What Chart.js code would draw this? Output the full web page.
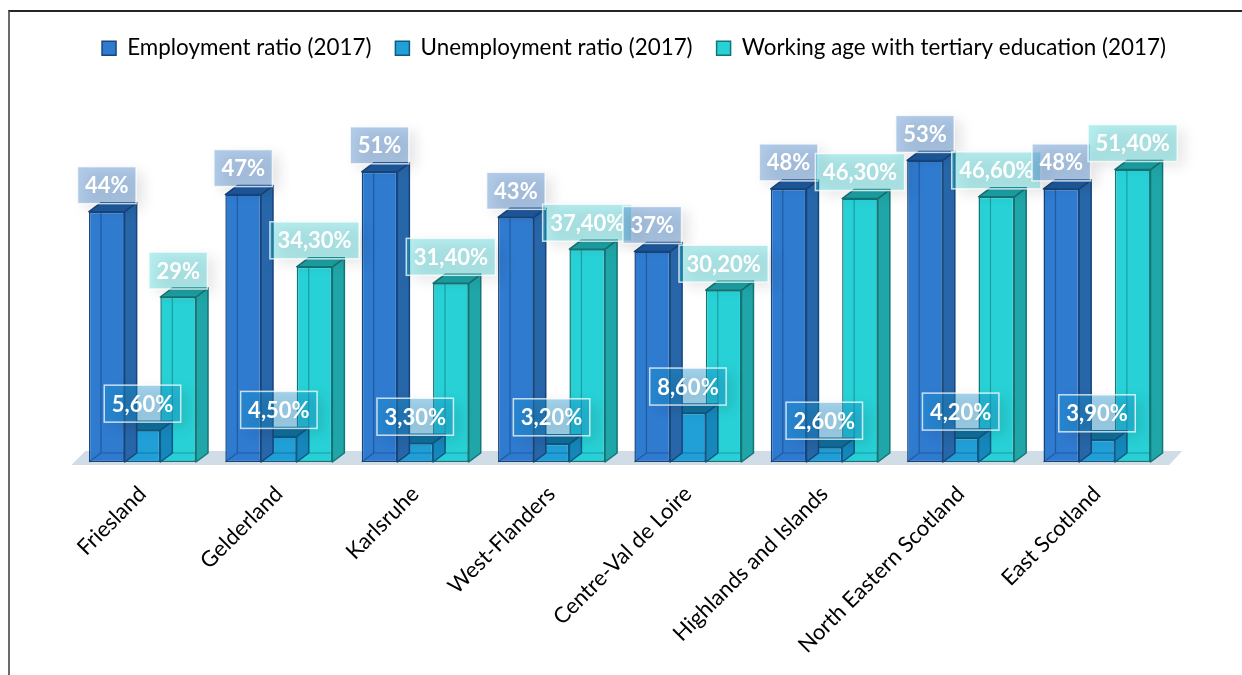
<!DOCTYPE html>
<html>
<head>
<meta charset="utf-8">
<title>Regional labour market indicators, 2017</title>
<script src="https://cdn.jsdelivr.net/npm/chart.js@4.4.1/dist/chart.umd.min.js"></script>
<style>
  html, body { margin: 0; padding: 0; background: #ffffff; overflow: hidden; }
  #frame {
    position: absolute; left: 8px; top: 10px;
    width: 1260px; height: 690px;
    border-top: 2px solid #262626;
    border-left: 2px solid #6a6a6a;
  }
  #chart { display: block; }
</style>
</head>
<body>
<div id="frame"><canvas id="chart" width="1240" height="663"></canvas></div>
<script>
// Regions compared
const regions = [
  'Friesland', 'Gelderland', 'Karlsruhe', 'West-Flanders',
  'Centre-Val de Loire', 'Highlands and Islands', 'North Eastern Scotland', 'East Scotland'
];

// Series values, in percent
const employmentRatio   = [44, 47, 51, 43, 37, 48, 53, 48];
const unemploymentRatio = [5.6, 4.5, 3.3, 3.2, 8.6, 2.6, 4.2, 3.9];
const tertiaryEducation = [29, 34.3, 31.4, 37.4, 30.2, 46.3, 46.6, 51.4];

// Series names
const seriesNames = [
  'Employment ratio (2017)',
  'Unemployment ratio (2017)',
  'Working age with tertiary education (2017)'
];

// Look of each series: front face, top, side, outline, inner edges, label box
const seriesStyle = [
  { front: 'rgba(40,119,206,0.97)', top: '#1e5a9f', side: '#2766a8', edge: '#17467d',
    hidden: 'rgba(18,60,115,0.5)', box: 'rgba(60,125,200,0.40)' },
  { front: 'rgba(26,156,214,0.97)', top: '#10709d', side: '#1687bb', edge: '#0d5a84',
    hidden: 'rgba(10,80,120,0.5)', box: 'rgba(28,150,210,0.40)' },
  { front: 'rgba(32,208,213,0.97)', top: '#1da2a5', side: '#20a6a8', edge: '#137577',
    hidden: 'rgba(15,110,112,0.5)', box: 'rgba(45,205,210,0.35)' }
];

// Oblique depth of the bars
const DEPTH_X = 12, DEPTH_Y = 9;

function formatPct(v) {
  return Number.isInteger(v) ? v + '%' : v.toFixed(2).replace('.', ',') + '%';
}

function poly(ctx, pts) {
  ctx.beginPath();
  ctx.moveTo(pts[0][0], pts[0][1]);
  for (let i = 1; i < pts.length; i++) ctx.lineTo(pts[i][0], pts[i][1]);
  ctx.closePath();
}

// Floor under the bars plus the side and top faces of every bar
const bars3d = {
  id: 'bars3d',
  beforeDatasetsDraw(chart) {
    const { ctx, chartArea } = chart;
    const b = chart.scales.y.getPixelForValue(0);
    const L = chartArea.left, R = chartArea.right;
    ctx.save();
    poly(ctx, [[L - 3, b + 3], [L + DEPTH_X - 1, b - DEPTH_Y - 2], [R + DEPTH_X + 5, b - DEPTH_Y - 2], [R + 4, b + 3]]);
    ctx.fillStyle = '#d0dde7';
    ctx.fill();
    ctx.restore();
  },
  afterDatasetDraw(chart, args) {
    const { ctx } = chart;
    const st = seriesStyle[args.index];
    ctx.save();
    ctx.lineJoin = 'round';
    args.meta.data.forEach(bar => {
      const { x, y, base, width } = bar.getProps(['x', 'y', 'base', 'width'], true);
      const x0 = x - width / 2, x1 = x + width / 2;
      // edges at the back, seen through the front face
      ctx.beginPath();
      ctx.moveTo(x0 + DEPTH_X, y - DEPTH_Y);
      ctx.lineTo(x0 + DEPTH_X, base - DEPTH_Y);
      ctx.lineTo(x1, base - DEPTH_Y);
      ctx.moveTo(x0, base);
      ctx.lineTo(x0 + DEPTH_X, base - DEPTH_Y);
      ctx.strokeStyle = st.hidden;
      ctx.lineWidth = 1.2;
      ctx.stroke();
      // right side
      poly(ctx, [[x1, y], [x1 + DEPTH_X, y - DEPTH_Y], [x1 + DEPTH_X, base - DEPTH_Y], [x1, base]]);
      ctx.fillStyle = st.side;
      ctx.fill();
      ctx.strokeStyle = st.edge;
      ctx.lineWidth = 1.5;
      ctx.stroke();
      // top
      poly(ctx, [[x0, y], [x0 + DEPTH_X, y - DEPTH_Y], [x1 + DEPTH_X, y - DEPTH_Y], [x1, y]]);
      ctx.fillStyle = st.top;
      ctx.fill();
      ctx.stroke();
    });
    ctx.restore();
  }
};

// Value boxes above every bar
const valueBoxes = {
  id: 'valueBoxes',
  afterDatasetsDraw(chart) {
    const { ctx } = chart;
    const n = chart.data.labels.length;
    ctx.save();
    ctx.font = 'bold 22px Lato';
    ctx.textAlign = 'center';
    ctx.textBaseline = 'middle';
    for (let j = 0; j < n; j++) {
      chart.data.datasets.forEach((ds, i) => {
        const bar = chart.getDatasetMeta(i).data[j];
        const { x, y } = bar.getProps(['x', 'y'], true);
        const text = formatPct(ds.data[j]);
        const w = ctx.measureText(text).width + 15;
        const h = 37;
        const bx = x - w / 2, by = y - 8 - h;
        ctx.save();
        ctx.shadowColor = 'rgba(0,0,0,0.28)';
        ctx.shadowBlur = 14;
        ctx.shadowOffsetX = 7;
        ctx.shadowOffsetY = 5;
        ctx.fillStyle = seriesStyle[i].box;
        ctx.fillRect(bx, by, w, h);
        ctx.restore();
        ctx.strokeStyle = 'rgba(255,255,255,0.75)';
        ctx.lineWidth = 1.5;
        ctx.strokeRect(bx, by, w, h);
        ctx.fillStyle = '#ffffff';
        ctx.fillText(text, x, by + h / 2 + 1);
      });
    }
    ctx.restore();
  }
};

Chart.defaults.font.family = 'Lato';
Chart.defaults.color = '#000000';

const seriesValues = [employmentRatio, unemploymentRatio, tertiaryEducation];

// Unlabelled side axes that only reserve room around the plot
function blankAxis(position, room) {
  return {
    type: 'linear',
    position,
    display: true,
    min: 0,
    grid: { display: false, drawTicks: false },
    border: { display: false },
    ticks: { display: false },
    afterFit(scale) { scale.width = room; }
  };
}

new Chart(document.getElementById('chart'), {
  type: 'bar',
  data: {
    labels: regions,
    datasets: seriesValues.map((vals, i) => ({
      label: seriesNames[i],
      data: vals,
      backgroundColor: seriesStyle[i].front,
      borderColor: seriesStyle[i].edge,
      borderWidth: 1.5,
      borderSkipped: false,
      categoryPercentage: 0.785,
      barPercentage: 1.0
    }))
  },
  options: {
    responsive: false,
    animation: false,
    devicePixelRatio: 1,
    layout: { padding: { top: 1, left: 8, right: 0, bottom: 0 } },
    plugins: {
      legend: {
        position: 'top',
        align: 'center',
        labels: {
          font: { size: 22.4 },
          color: '#000000',
          boxWidth: 14,
          boxHeight: 14,
          padding: 24
        }
      },
      tooltip: { enabled: false }
    },
    scales: {
      x: {
        grid: { display: false, drawTicks: false },
        border: { display: false },
        ticks: {
          autoSkip: false,
          minRotation: 45,
          maxRotation: 45,
          padding: 19,
          font: { size: 22 },
          color: '#000000'
        },
        afterFit(scale) { scale.height = 213; }
      },
      y: Object.assign(blankAxis('left', 56.3), { max: 69 }),
      yRight: Object.assign(blankAxis('right', 84.8), { max: 69 })
    }
  },
  plugins: [bars3d, valueBoxes]
});
</script>
</body>
</html>
